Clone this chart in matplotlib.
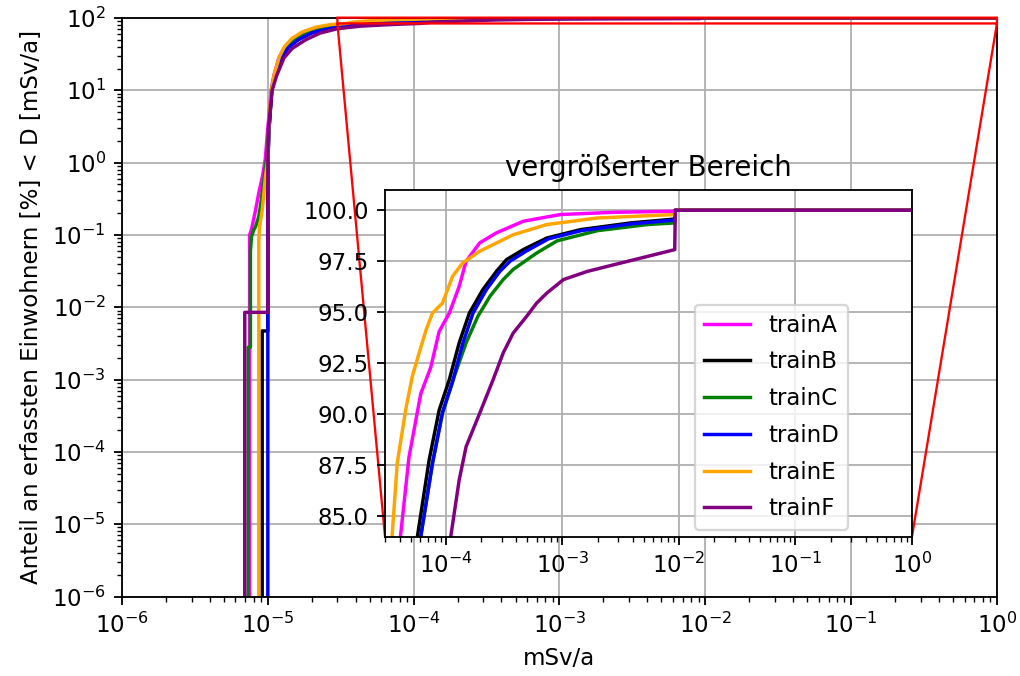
import matplotlib
matplotlib.use('Agg')
import matplotlib.pyplot as plt
from matplotlib.ticker import LogLocator, NullFormatter, MultipleLocator

# Dosis [mSv/a] und kumulierter Anteil [%] je Zug
dose_trainA = [7.5e-6, 7.5e-6, 7.73e-6, 8.24e-6, 8.67e-6, 9.2e-6, 9.6e-6, 1.0e-5, 1.054e-5, 1.1e-5,
               1.19e-5, 1.29e-5, 1.47e-5, 1.77e-5, 2.29e-5, 3.0e-5, 4.07e-5, 4.82e-5, 6.08e-5, 7.41e-5,
               8.75e-5, 1.07e-4, 1.30e-4, 1.49e-4, 1.95e-4, 2.71e-4, 4.61e-4, 9.57e-4, 2.77e-3, 9.2e-3,
               9.3e-3, 1.0]
pct_trainA = [0, 0.1, 0.12, 0.22, 0.38, 0.65, 1.1, 3, 10, 16,
              28, 38, 50, 62, 73, 80, 84.0, 87.9, 91.0, 92.3,
              94.06, 94.96, 96.27, 97.5, 98.4, 98.89, 99.46, 99.79, 99.9, 99.95,
              100, 100]

dose_trainB = [9.15e-6, 9.15e-6, 1.0e-5, 1.0e-5, 1.02e-5, 1.063e-5, 1.125e-5, 1.23e-5, 1.37e-5, 1.6e-5,
               1.97e-5, 2.6e-5, 3.45e-5, 4.5e-5, 5.69e-5, 7.18e-5, 8.75e-5, 1.07e-4, 1.30e-4, 1.59e-4,
               2.07e-4, 2.71e-4, 3.31e-4, 4.61e-4, 7.35e-4, 1.43e-3, 3.86e-3, 9.2e-3, 9.3e-3, 1.0]
pct_trainB = [0, 0.0047, 0.0047, 1.0, 3, 10, 17, 28, 39, 50,
              62, 72, 78, 81.5, 84, 87.76, 90.2, 91.7, 93.5, 94.96,
              96.1, 97.0, 97.58, 98.07, 98.64, 99.05, 99.38, 99.57, 100, 100]

dose_trainC = [7.34e-6, 7.34e-6, 7.6e-6, 7.6e-6, 7.73e-6, 8.0e-6, 8.24e-6, 8.67e-6, 8.9e-6, 9.4e-6,
               9.8e-6, 1.02e-5, 1.06e-5, 1.12e-5, 1.22e-5, 1.35e-5, 1.55e-5, 1.9e-5, 2.5e-5, 3.4e-5,
               4.5e-5, 6.08e-5, 7.67e-5, 9.35e-5, 1.18e-4, 1.49e-4, 1.88e-4, 2.4e-4, 3.1e-4, 3.78e-4,
               6.0e-4, 9.0e-4, 2.0e-3, 5.4e-3, 9.2e-3, 9.3e-3, 1.0]
pct_trainC = [0, 0.0028, 0.0028, 0.06, 0.095, 0.117, 0.13, 0.18, 0.25, 0.58,
              1.1, 3, 10, 17, 28, 39, 50, 62, 72, 78,
              81.5, 84, 87.6, 90.05, 91.85, 93.5, 94.8, 95.8, 96.6, 97.1,
              97.9, 98.5, 99.0, 99.3, 99.38, 100, 100]

dose_trainD = [1.0e-5, 1.0e-5, 1.02e-5, 1.065e-5, 1.13e-5, 1.24e-5, 1.38e-5, 1.62e-5, 2.0e-5, 2.7e-5,
               3.6e-5, 4.7e-5, 6.08e-5, 7.67e-5, 9.35e-5, 1.14e-4, 1.40e-4, 1.71e-4, 2.22e-4, 2.90e-4,
               3.55e-4, 4.9e-4, 7.6e-4, 1.45e-3, 3.9e-3, 9.2e-3, 9.3e-3, 1.0]
pct_trainD = [0, 1.0, 3, 10, 17, 28, 39, 50, 62, 72,
              78, 81.5, 84, 87.6, 90.1, 91.6, 93.5, 94.96, 96.1, 97.0,
              97.5, 98.0, 98.6, 99.0, 99.33, 99.52, 100, 100]

dose_trainE = [8.67e-6, 8.67e-6, 8.77e-6, 9.16e-6, 9.4e-6, 9.64e-6, 1.0e-5, 1.02e-5, 1.056e-5, 1.11e-5,
               1.2e-5, 1.3e-5, 1.46e-5, 1.72e-5, 2.15e-5, 2.7e-5, 3.45e-5, 3.82e-5, 4.51e-5, 5.14e-5,
               5.89e-5, 6.76e-5, 7.67e-5, 9.35e-5, 1.14e-4, 1.39e-4, 1.95e-4, 3.78e-4, 7.35e-4, 1.99e-3,
               9.2e-3, 9.3e-3, 1.0]
pct_trainE = [0, 0.085, 0.13, 0.22, 0.38, 0.65, 1.1, 4, 10, 17,
              29, 40, 52, 64, 75, 81, 84, 87.6, 90.2, 91.85,
              93.0, 94.14, 94.96, 95.45, 96.76, 97.41, 97.99, 98.8, 99.3, 99.62,
              99.79, 100, 100]

dose_trainF = [6.95e-6, 6.95e-6, 1.0e-5, 1.0e-5, 1.01e-5, 1.07e-5, 1.15e-5, 1.29e-5, 1.47e-5, 1.82e-5,
               2.29e-5, 3.0e-5, 4.3e-5, 6.5e-5, 8.5e-5, 1.10e-4, 1.30e-4, 1.49e-4, 1.95e-4, 2.54e-4,
               3.10e-4, 3.78e-4, 4.93e-4, 6.01e-4, 7.35e-4, 1.02e-3, 1.63e-3, 2.77e-3, 5.40e-3, 9.2e-3,
               9.3e-3, 1.0]
pct_trainF = [0, 0.0085, 0.0085, 1.0, 3, 10, 16, 28, 38, 50,
              62, 71, 77, 80.5, 82.5, 84, 86.78, 88.41, 90.05, 91.69,
              93.0, 93.98, 94.8, 95.45, 95.94, 96.6, 97.0, 97.33, 97.74, 98.07,
              100, 100]

names = ['trainA', 'trainB', 'trainC', 'trainD', 'trainE', 'trainF']
colors = ['magenta', 'black', 'green', 'blue', 'orange', 'purple']
doses = [dose_trainA, dose_trainB, dose_trainC, dose_trainD, dose_trainE, dose_trainF]
pcts = [pct_trainA, pct_trainB, pct_trainC, pct_trainD, pct_trainE, pct_trainF]

fig = plt.figure(figsize=(1020 / 165, 676 / 165), dpi=165)
ax = fig.add_axes([0.1196, 0.1176, 0.8578, 0.8558])

for name, c, d, p in zip(names, colors, doses, pcts):
    ax.plot(d, p, color=c, label=name)

ax.set_xscale('log')
ax.set_yscale('log')
ax.set_xlim(1e-6, 1)
ax.set_ylim(1e-6, 1e2)
ax.yaxis.set_major_locator(LogLocator(base=10, numticks=20))
ax.yaxis.set_minor_locator(LogLocator(base=10, subs=range(2, 10), numticks=20))
ax.yaxis.set_minor_formatter(NullFormatter())
ax.xaxis.set_major_locator(LogLocator(base=10, numticks=20))
ax.xaxis.set_minor_locator(LogLocator(base=10, subs=range(2, 10), numticks=20))
ax.xaxis.set_minor_formatter(NullFormatter())
ax.grid(True)
ax.set_xlabel('mSv/a')
ax.set_ylabel('Anteil an erfassten Einwohnern [%] < D [mSv/a]')

# Ausschnitt oben rechts vergroessert
axins = ax.inset_axes([0.3006, 0.1036, 0.6023, 0.5993])
for name, c, d, p in zip(names, colors, doses, pcts):
    axins.plot(d, p, color=c, label=name)
axins.set_xscale('log')
axins.set_xlim(3e-5, 1)
axins.set_ylim(84, 101)
axins.yaxis.set_major_locator(MultipleLocator(2.5))
axins.xaxis.set_minor_formatter(NullFormatter())
axins.grid(True)
axins.set_title('vergrößerter Bereich')
axins.legend(loc='lower right', bbox_to_anchor=(0.879, 0.02), borderaxespad=0, labelspacing=0.6)

ax.indicate_inset_zoom(axins, edgecolor='red', alpha=1)

fig.savefig('out.png', dpi=165)
